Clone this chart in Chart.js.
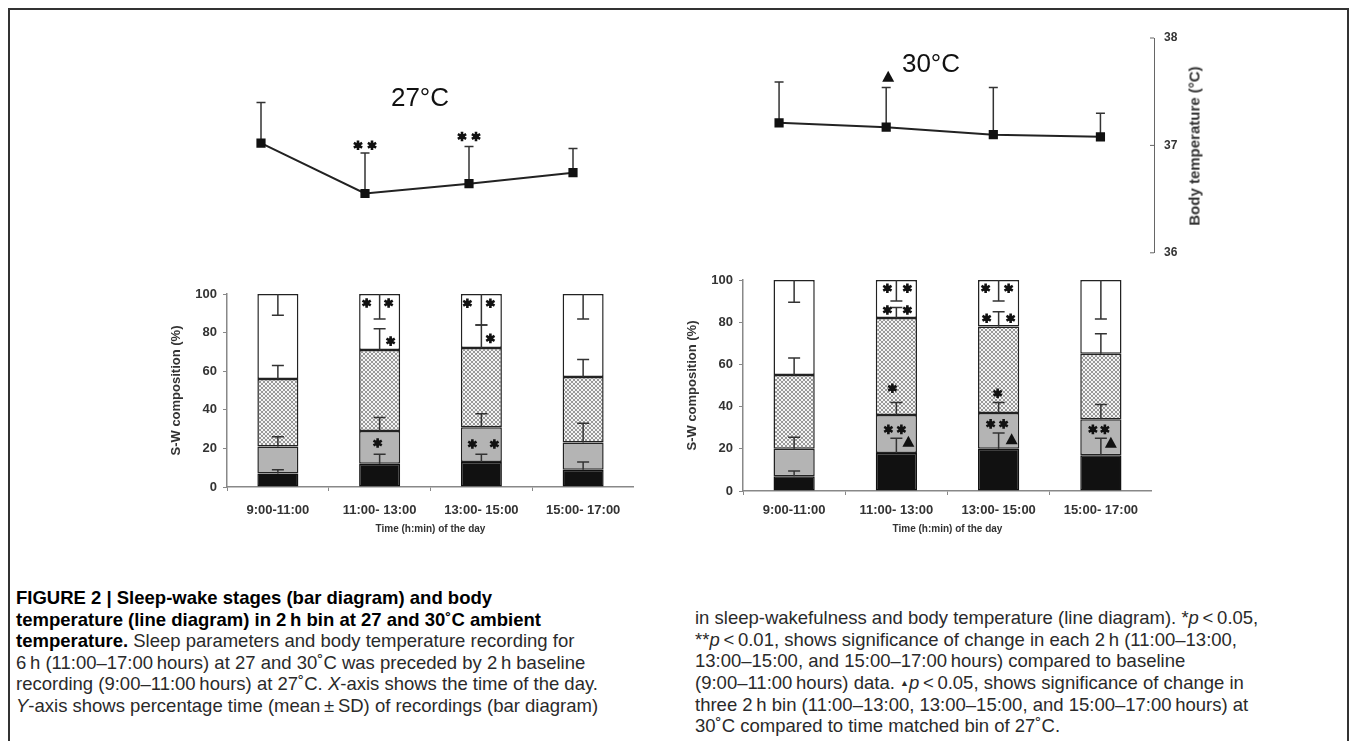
<!DOCTYPE html>
<html>
<head>
<meta charset="utf-8">
<script src="https://cdn.jsdelivr.net/npm/chart.js@4.4.0/dist/chart.umd.min.js"></script>
<style>
  html, body { margin: 0; padding: 0; background: #fff; }
  body { width: 1356px; height: 741px; position: relative; overflow: hidden; font-family: "Liberation Sans", Arial, sans-serif; }
  #frame { position: absolute; left: 8px; top: 8px; width: 1341px; height: 800px; border: 2px solid #333; border-bottom: none; box-sizing: border-box; }
  .box { position: absolute; }
  .temp { position: absolute; font-size: 26px; color: #111; transform: translate(-50%, -50%); white-space: nowrap; }
  .ytitle { position: absolute; font-size: 15px; font-weight: bold; color: #333; transform: translate(-50%, -50%) rotate(-90deg); white-space: nowrap; }
  .cap { position: absolute; font-size: 18.5px; line-height: 21.5px; color: #2a2a2a; white-space: nowrap; }
  .cap b { color: #000; }
  .tri { font-size: 9px; vertical-align: 0.35em; }
</style>
</head>
<body>
<div id="frame"></div>

<div class="box" style="left:150px; top:0px; width:500px; height:270px;"><canvas id="temp27"></canvas></div>
<div class="box" style="left:700px; top:0px; width:540px; height:270px;"><canvas id="temp30"></canvas></div>
<div class="box" style="left:150px; top:280px; width:484px; height:262px;"><canvas id="bars27"></canvas></div>
<div class="box" style="left:666px; top:266px; width:486px; height:276px;"><canvas id="bars30"></canvas></div>

<div class="temp" style="left:420px; top:97px;">27°C</div>
<div class="temp" style="left:931px; top:63px;">30°C</div>
<div class="ytitle" style="left:1194px; top:146px;">Body temperature (°C)</div>

<div class="cap" style="left:16px; top:587px;">
<b>FIGURE 2 | Sleep-wake stages (bar diagram) and body</b><br>
<b>temperature (line diagram) in 2&#8201;h bin at 27 and 30˚C ambient</b><br>
<b>temperature.</b> Sleep parameters and body temperature recording for<br>
6&#8201;h (11:00–17:00&#8201;hours) at 27 and 30˚C was preceded by 2&#8201;h baseline<br>
recording (9:00–11:00&#8201;hours) at 27˚C. <i>X</i>-axis shows the time of the day.<br>
<i>Y</i>-axis shows percentage time (mean&#8201;±&#8201;SD) of recordings (bar diagram)
</div>
<div class="cap" style="left:695px; top:607px;">
in sleep-wakefulness and body temperature (line diagram). *<i>p</i>&#8201;&lt;&#8201;0.05,<br>
**<i>p</i>&#8201;&lt;&#8201;0.01, shows significance of change in each 2&#8201;h (11:00–13:00,<br>
13:00–15:00, and 15:00–17:00&#8201;hours) compared to baseline<br>
(9:00–11:00&#8201;hours) data. <span class="tri">▲</span><i>p</i>&#8201;&lt;&#8201;0.05, shows significance of change in<br>
three 2&#8201;h bin (11:00–13:00, 13:00–15:00, and 15:00–17:00&#8201;hours) at<br>
30˚C compared to time matched bin of 27˚C.
</div>

<script>
const timeLabels = ['9:00-11:00', '11:00- 13:00', '13:00- 15:00', '15:00- 17:00'];

// body temperature, mean and SD (°C)
const temp27 = [37.04, 36.58, 36.67, 36.77];
const temp27Sd = [0.37, 0.37, 0.34, 0.22];
const temp30 = [37.21, 37.17, 37.10, 37.08];
const temp30Sd = [0.38, 0.37, 0.44, 0.22];
const tempTicks = [36, 37, 38];

// S-W composition (%), stacked bottom to top
const rem27 = [7, 12, 13, 9];
const sws27 = [14, 17, 18, 14];
const light27 = [35, 42, 41, 34];
const wake27 = [44, 29, 28, 43];
const rem30 = [7, 18, 20, 17];
const sws30 = [13, 18, 17, 17];
const light30 = [35, 46, 41, 31];
const wake30 = [45, 18, 22, 35];

// SD of each stage
const rem27Sd = [2, 5, 4, 4];
const sws27Sd = [5, 7, 7, 10];
const light27Sd = [7, 11, 12, 9];
const wake27Sd = [11, 13, 16, 13];
const rem30Sd = [2.5, 7, 7.5, 8];
const sws30Sd = [5.5, 6, 5, 7];
const light30Sd = [8, 5, 7, 9.5];
const wake30Sd = [10.5, 10, 10, 18.5];

// significance marks: [bin, value, x shift, symbol]
const marks27Line = [[1, 37.02, -7, '*'], [1, 37.02, 7, '*'], [2, 37.10, -7, '*'], [2, 37.10, 7, '*']];
const marks30Line = [[1, 37.64, 2, '^']];
const marks27Bars = [
  [1, 95.3, -13, '*'], [1, 95.3, 9, '*'], [1, 75.6, 11, '*'], [1, 22.8, -2, '*'],
  [2, 95.2, -14, '*'], [2, 95.2, 9, '*'], [2, 77, 9, '*'], [2, 22.3, -9, '*'], [2, 22.3, 13, '*']
];
const marks30Bars = [
  [1, 96.1, -9, '*'], [1, 96.1, 11, '*'], [1, 85.8, -9, '*'], [1, 85.8, 11, '*'],
  [1, 48.7, -4, '*'], [1, 29.2, -8, '*'], [1, 29.2, 5, '*'], [1, 23.4, 12, '^'],
  [2, 96.1, -13, '*'], [2, 96.1, 10, '*'], [2, 81.9, -12, '*'], [2, 81.9, 12, '*'],
  [2, 46.3, -1, '*'], [2, 31.8, -8, '*'], [2, 31.8, 5, '*'], [2, 24.5, 13, '^'],
  [3, 29.2, -8, '*'], [3, 29.2, 4, '*'], [3, 22.9, 10, '^']
];

const hatch = (() => {
  const c = document.createElement('canvas');
  c.width = 4; c.height = 4;
  const g = c.getContext('2d');
  g.fillStyle = '#f4f4f4';
  g.fillRect(0, 0, 4, 4);
  g.fillStyle = '#999';
  [[0,0],[1,1],[2,2],[3,3],[3,0],[2,1],[1,2],[0,3]].forEach(([x, y]) => g.fillRect(x, y, 1, 1));
  return g.createPattern(c, 'repeat');
})();

function drawStar(ctx, x, y) {
  ctx.save();
  ctx.strokeStyle = '#111';
  ctx.fillStyle = '#111';
  ctx.lineWidth = 2.6;
  ctx.beginPath();
  for (let a = 0; a < 3; a++) {
    const t = Math.PI / 2 + a * Math.PI / 3;
    ctx.moveTo(x - 4.8 * Math.cos(t), y - 4.8 * Math.sin(t));
    ctx.lineTo(x + 4.8 * Math.cos(t), y + 4.8 * Math.sin(t));
  }
  ctx.stroke();
  ctx.beginPath();
  ctx.arc(x, y, 2.8, 0, Math.PI * 2);
  ctx.fill();
  ctx.restore();
}

function drawTriangle(ctx, x, y) {
  ctx.save();
  ctx.fillStyle = '#111';
  ctx.beginPath();
  ctx.moveTo(x, y - 6);
  ctx.lineTo(x - 6, y + 5);
  ctx.lineTo(x + 6, y + 5);
  ctx.closePath();
  ctx.fill();
  ctx.restore();
}

const sigMarks = {
  id: 'sigMarks',
  afterDatasetsDraw(chart, args, opts) {
    const ctx = chart.ctx;
    const y = chart.scales.y;
    const meta = chart.getDatasetMeta(0);
    opts.marks.forEach(([i, v, dx, s]) => {
      const px = meta.data[i].x + dx;
      const py = y.getPixelForValue(v);
      if (s === '^') drawTriangle(ctx, px, py); else drawStar(ctx, px, py);
    });
  }
};

// error bars on stacked segments: upward, except the top segment (downward)
const stackErrors = {
  id: 'stackErrors',
  afterDatasetsDraw(chart, args, opts) {
    const ctx = chart.ctx;
    const y = chart.scales.y;
    const sets = chart.data.datasets;
    ctx.save();
    ctx.strokeStyle = '#333';
    ctx.lineWidth = 1.5;
    sets.forEach((ds, k) => {
      const meta = chart.getDatasetMeta(k);
      ds.data.forEach((v, i) => {
        let top = 0;
        for (let m = 0; m <= k; m++) top += sets[m].data[i];
        const sd = opts.sd[k][i];
        const end = k === sets.length - 1 ? top - sd : top + sd;
        const x = meta.data[i].x;
        const y0 = y.getPixelForValue(top);
        const y1 = y.getPixelForValue(end);
        ctx.beginPath();
        ctx.moveTo(x, y0);
        ctx.lineTo(x, y1);
        ctx.moveTo(x - 6, y1);
        ctx.lineTo(x + 6, y1);
        ctx.stroke();
      });
    });
    ctx.restore();
  }
};

const lineErrors = {
  id: 'lineErrors',
  beforeDatasetsDraw(chart, args, opts) {
    const ctx = chart.ctx;
    const y = chart.scales.y;
    const ds = chart.data.datasets[0];
    const meta = chart.getDatasetMeta(0);
    ctx.save();
    ctx.strokeStyle = '#333';
    ctx.lineWidth = 1.5;
    ds.data.forEach((v, i) => {
      const x = meta.data[i].x;
      const y0 = y.getPixelForValue(v);
      const y1 = y.getPixelForValue(v + opts.sd[i]);
      ctx.beginPath();
      ctx.moveTo(x, y0);
      ctx.lineTo(x, y1);
      ctx.moveTo(x - 4.5, y1);
      ctx.lineTo(x + 4.5, y1);
      ctx.stroke();
    });
    ctx.restore();
  }
};

// ticks of the temperature axis point inward
const innerTicks = {
  id: 'innerTicks',
  afterDraw(chart) {
    const s = chart.scales.y;
    if (!s.options.display) return;
    const ctx = chart.ctx;
    ctx.save();
    ctx.strokeStyle = '#666';
    ctx.lineWidth = 1;
    s.ticks.forEach(t => {
      const py = s.getPixelForValue(t.value);
      ctx.beginPath();
      ctx.moveTo(s.left - 4, py);
      ctx.lineTo(s.left, py);
      ctx.stroke();
    });
    ctx.restore();
  }
};

function tempChart(id, values, sds, marks, showAxis, padding) {
  return new Chart(document.getElementById(id), {
    type: 'line',
    data: {
      labels: timeLabels,
      datasets: [{
        data: values,
        borderColor: '#222',
        borderWidth: 2,
        tension: 0,
        pointStyle: 'rect',
        pointRadius: 6.5,
        pointBackgroundColor: '#111',
        pointBorderColor: '#111',
        pointBorderWidth: 0
      }]
    },
    options: {
      responsive: true,
      maintainAspectRatio: false,
      animation: false,
      layout: { padding: padding },
      scales: {
        x: { display: false, offset: true },
        y: {
          display: showAxis,
          position: 'right',
          min: 36,
          max: 38,
          afterBuildTicks: s => { s.ticks = tempTicks.map(v => ({ value: v })); },
          afterFit: s => { if (s.options.display) s.width = 86; },
          border: { display: true, color: '#666', width: 1 },
          grid: { display: false, drawTicks: false },
          ticks: { padding: 10, color: '#333', font: { family: 'Liberation Sans', size: 12, weight: 'bold' } }
        }
      },
      plugins: {
        legend: { display: false },
        tooltip: { enabled: false },
        lineErrors: { sd: sds },
        sigMarks: { marks: marks }
      }
    },
    plugins: [lineErrors, sigMarks, innerTicks]
  });
}

function barChart(id, series, sds, marks, titlePad, xPad, xHeight) {
  const styles = [
    { backgroundColor: '#111', borderColor: '#111' },
    { backgroundColor: '#b4b4b4', borderColor: '#222' },
    { backgroundColor: hatch, borderColor: '#222' },
    { backgroundColor: '#fff', borderColor: '#222' }
  ];
  return new Chart(document.getElementById(id), {
    type: 'bar',
    data: {
      labels: timeLabels,
      datasets: series.map((d, k) => Object.assign({
        data: d,
        borderWidth: 1.5,
        borderSkipped: false,
        barPercentage: 0.9,
        categoryPercentage: 0.448
      }, styles[k]))
    },
    options: {
      responsive: true,
      maintainAspectRatio: false,
      animation: false,
      layout: { padding: { top: 14, left: 0, right: 0, bottom: 0 } },
      scales: {
        x: {
          stacked: true,
          afterFit: s => { s.height = xHeight; },
          border: { color: '#888', width: 1.5 },
          grid: { drawOnChartArea: false, drawTicks: true, tickLength: 4, color: '#888' },
          ticks: { padding: xPad, color: '#333', maxRotation: 0, font: { family: 'Liberation Sans', size: 13, weight: 'bold' } },
          title: { display: true, text: 'Time (h:min) of the day', color: '#333', padding: { top: 0, bottom: 7 }, font: { family: 'Liberation Sans', size: 10, weight: 'bold' } }
        },
        y: {
          stacked: true,
          min: 0,
          max: 100,
          afterFit: s => { s.width = 77; },
          border: { color: '#888', width: 1.5 },
          grid: { drawOnChartArea: false, drawTicks: true, tickLength: 4, color: '#888' },
          ticks: { stepSize: 20, padding: 6, color: '#333', font: { family: 'Liberation Sans', size: 13, weight: 'bold' } },
          title: { display: true, text: 'S-W composition (%)', color: '#333', padding: { top: titlePad, bottom: 0 }, font: { family: 'Liberation Sans', size: 13, weight: 'bold' } }
        }
      },
      plugins: {
        legend: { display: false },
        tooltip: { enabled: false },
        stackErrors: { sd: sds },
        sigMarks: { marks: marks }
      }
    },
    plugins: [stackErrors, sigMarks]
  });
}

tempChart('temp27', temp27, temp27Sd, marks27Line, false, { top: 38, bottom: 13, left: 59, right: 25 });
tempChart('temp30', temp30, temp30Sd, marks30Line, true, { top: 38, bottom: 13, left: 25.5, right: 0 });

barChart('bars27', [rem27, sws27, light27, wake27], [rem27Sd, sws27Sd, light27Sd, wake27Sd], marks27Bars, 19, 12, 55);
barChart('bars30', [rem30, sws30, light30, wake30], [rem30Sd, sws30Sd, light30Sd, wake30Sd], marks30Bars, 19, 8, 51);
</script>
</body>
</html>
